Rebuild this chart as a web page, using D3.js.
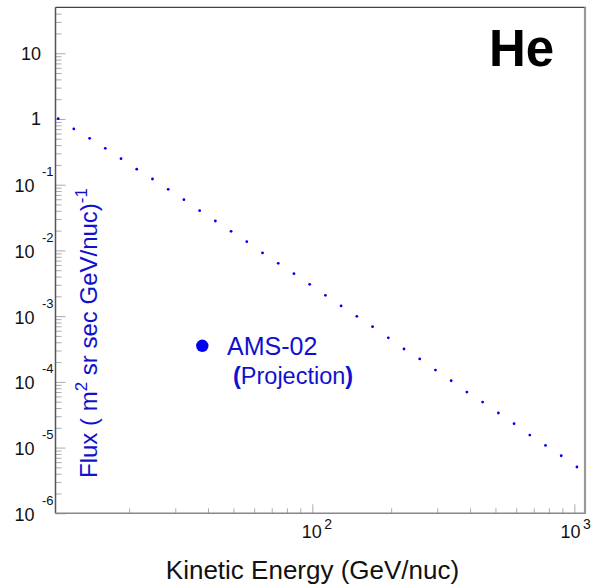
<!DOCTYPE html>
<html>
<head>
<meta charset="utf-8">
<script src="https://cdn.jsdelivr.net/npm/d3@7"></script>
<style>
  html, body { margin: 0; padding: 0; background: #fff; }
  svg { display: block; font-family: "Liberation Sans", Arial, Helvetica, sans-serif; }
</style>
</head>
<body>
<svg id="chart" width="592" height="585"></svg>
<script>
// Helium flux projection: kinetic energy per nucleon (GeV/nuc) vs flux
const energy = [10.72, 12.30, 14.13, 16.22, 18.62, 21.38, 24.55, 28.18, 32.36, 37.15,
                42.66, 48.98, 56.23, 64.57, 74.13, 85.11, 97.72, 112.2, 128.8, 147.9,
                169.8, 195.0, 223.9, 257.0, 295.1, 338.8, 389.0, 446.7, 512.9, 588.8,
                676.1, 776.2, 891.3, 1023];
const flux = [1.01, 0.705, 0.508, 0.358, 0.249, 0.172, 0.122, 0.0851, 0.0592, 0.0402,
              0.0280, 0.0195, 0.0136, 0.00914, 0.00637, 0.00442, 0.00305, 0.00207, 0.00143, 0.000994,
              0.000690, 0.000468, 0.000316, 0.000223, 0.000151, 0.000104, 7.00e-5, 4.93e-5, 3.36e-5, 2.31e-5,
              1.55e-5, 1.08e-5, 7.51e-6, 5.06e-6];

const xDomain = [10.47, 1108];
const yDomain = [1e-6, 50];

const yTicks = [10, 1, 1e-1, 1e-2, 1e-3, 1e-4, 1e-5, 1e-6];
const yTickBase = ["10", "1", "10", "10", "10", "10", "10", "10"];
const yTickExp = ["", "", "-1", "-2", "-3", "-4", "-5", "-6"];

const xTicks = [100, 1000];
const xTickBase = ["10", "10"];
const xTickExp = ["2", "3"];

const seriesName = "AMS-02";
const seriesNote = "Projection";
const element = "He";
const xTitle = "Kinetic Energy (GeV/nuc)";

const W = 592;
const frameL = 55.5, frameR = 586, frameT = 7.3, frameB = 513.3;
const blue = "#0000f0";
const textBlue = "#1010d0";

const svg = d3.select("#chart");
const x = d3.scaleLog().domain(xDomain).range([frameL, frameR]);
const y = d3.scaleLog().domain(yDomain).range([frameB, frameT]);

// minor ticks: 2..9 within every decade inside the domain
function minorTicks(domain) {
  const out = [];
  for (let e = -7; e <= 4; e++) {
    for (let m = 2; m <= 9; m++) {
      const v = m * Math.pow(10, e);
      if (v > domain[0] && v < domain[1]) out.push(v);
    }
  }
  return out;
}

// y axis: ticks pointing into the frame
const gy = svg.append("g").attr("transform", `translate(${frameL},0)`);
gy.call(d3.axisLeft(y).tickValues(minorTicks(yDomain)).tickSizeInner(-6).tickSizeOuter(0).tickFormat(""));
gy.call(g => g.append("g").call(d3.axisLeft(y).tickValues(yTicks).tickSizeInner(-10).tickSizeOuter(0).tickFormat("")));
gy.selectAll(".tick line").attr("stroke", "#aaa").attr("stroke-width", 1);
gy.selectAll(".domain").attr("stroke", "none");

// x axis: ticks pointing up into the frame
const gx = svg.append("g").attr("transform", `translate(0,${frameB})`);
gx.call(d3.axisBottom(x).tickValues(minorTicks(xDomain)).tickSizeInner(-5).tickSizeOuter(0).tickFormat(""));
gx.call(g => g.append("g").call(d3.axisBottom(x).tickValues(xTicks).tickSizeInner(-9).tickSizeOuter(0).tickFormat("")));
gx.selectAll(".tick line").attr("stroke", "#aaa").attr("stroke-width", 1);
gx.selectAll(".domain").attr("stroke", "none");

// frame
svg.append("line").attr("x1", frameL).attr("x2", frameR).attr("y1", frameT).attr("y2", frameT)
  .attr("stroke", "#444").attr("stroke-width", 1.2);
svg.append("line").attr("x1", frameL).attr("x2", frameL).attr("y1", frameT).attr("y2", frameB)
  .attr("stroke", "#555").attr("stroke-width", 1.5);
svg.append("line").attr("x1", frameL).attr("x2", frameR).attr("y1", frameB).attr("y2", frameB)
  .attr("stroke", "#888").attr("stroke-width", 1.5);
svg.append("line").attr("x1", frameR - 1).attr("x2", frameR - 1).attr("y1", frameT).attr("y2", frameB)
  .attr("stroke", "#999").attr("stroke-width", 2.2);

// y tick labels
const yl = svg.append("g").attr("fill", "#111");
yTicks.forEach((v, i) => {
  const yy = y(v);
  if (yTickExp[i] === "") {
    yl.append("text").attr("x", 41).attr("y", yy + 6.5).attr("text-anchor", "end")
      .attr("font-size", 18).text(yTickBase[i]);
  } else {
    yl.append("text").attr("x", 34.5).attr("y", yy + 7.5).attr("text-anchor", "end")
      .attr("font-size", 18).text(yTickBase[i]);
    yl.append("text").attr("x", 42).attr("y", yy - 8.5).attr("text-anchor", "start")
      .attr("font-size", 13).text(yTickExp[i]);
  }
});

// x tick labels, kept inside the canvas width
const xl = svg.append("g").attr("fill", "#111");
xTicks.forEach((v, i) => {
  const xx = x(v);
  const lab = xl.append("g");
  lab.append("text").attr("x", xx - 10.5).attr("y", 537.5).attr("font-size", 18).text(xTickBase[i]);
  lab.append("text").attr("x", xx + 12).attr("y", 529).attr("font-size", 14).text(xTickExp[i]);
  const bb = lab.node().getBBox();
  const over = bb.x + bb.width - (W - 1);
  if (over > 0) lab.attr("transform", `translate(${-over},0)`);
});

// axis titles
svg.append("text").attr("x", 312.5).attr("y", 579).attr("text-anchor", "middle")
  .attr("font-size", 26).attr("fill", "#111").text(xTitle);

const yt = svg.append("text")
  .attr("transform", "translate(96.5,478) rotate(-90)")
  .attr("font-size", 24).attr("fill", textBlue);
yt.append("tspan").text("Flux ( m");
yt.append("tspan").attr("font-size", 17).attr("dy", -10).text("2");
yt.append("tspan").attr("dy", 10).text(" sr sec GeV/nuc)");
yt.append("tspan").attr("font-size", 17).attr("dy", -10).text("-1");

// element label
svg.append("text").attr("x", 489).attr("y", 65.5).attr("font-size", 51)
  .attr("font-weight", "bold").attr("fill", "#000").text(element);

// data points
svg.append("g").selectAll("circle").data(energy).join("circle")
  .attr("cx", (d) => x(d))
  .attr("cy", (d, i) => y(flux[i]))
  .attr("r", 1.4)
  .attr("fill", blue);

// legend
svg.append("circle").attr("cx", 202.3).attr("cy", 345.8).attr("r", 6.2).attr("fill", blue);
svg.append("text").attr("x", 227).attr("y", 355).attr("font-size", 25).attr("fill", textBlue).text(seriesName);
const note = svg.append("text").attr("x", 233).attr("y", 383.5).attr("font-size", 23.5).attr("fill", textBlue);
note.append("tspan").attr("font-weight", "bold").text("(");
note.append("tspan").text(seriesNote);
note.append("tspan").attr("font-weight", "bold").text(")");
</script>
</body>
</html>
